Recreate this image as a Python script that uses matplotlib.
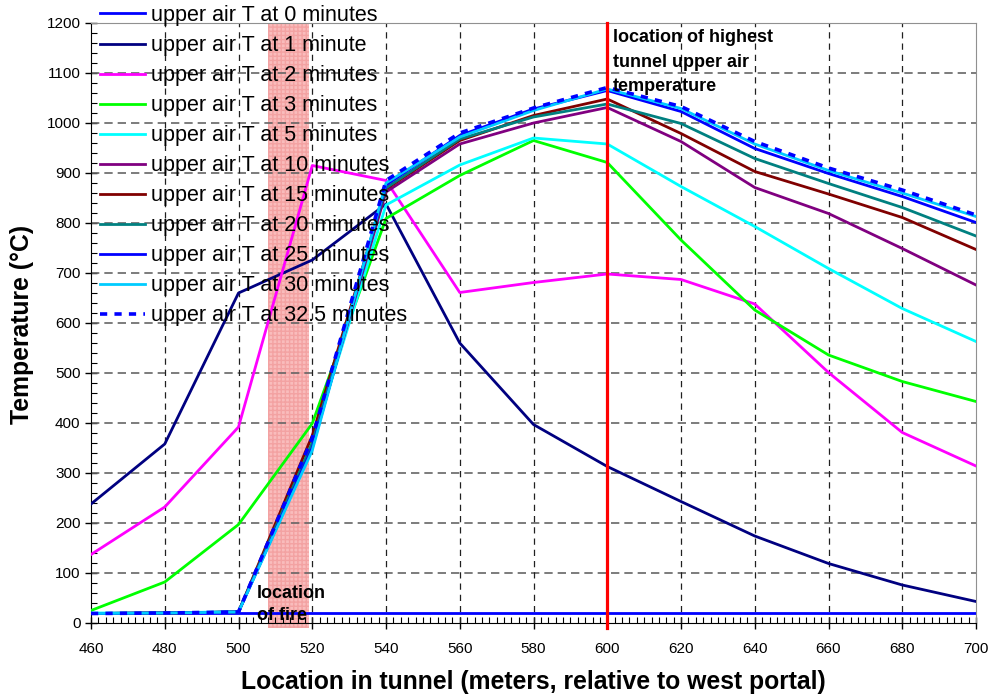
import matplotlib.pyplot as plt
from matplotlib.ticker import MultipleLocator

plt.rcParams['font.family'] = ['Liberation Sans', 'DejaVu Sans']

# plot parameters
tickFont = 11
axisLabelFont = 17.8
legendFont = 15.5
noteFont = 13

# tunnel positions (meters from west portal)
location = [460, 480, 500, 520, 540, 560, 580, 600, 620, 640, 660, 680, 700]

# upper air temperature (C) at each position, one list per time step
t0 = [20, 20, 20, 20, 20, 20, 20, 20, 20, 20, 20, 20, 20]
t1 = [238, 358, 660, 726, 838, 560, 397, 313, 243, 174, 119, 76, 43]
t2 = [137, 232, 392, 915, 885, 661, 681, 698, 687, 638, 501, 381, 314]
t3 = [25, 82, 197, 399, 809, 895, 965, 921, 766, 626, 536, 483, 443]
t5 = [20, 20, 23, 362, 836, 916, 970, 958, 873, 793, 709, 629, 563]
t10 = [19, 20, 22, 355, 862, 958, 1000, 1031, 963, 871, 819, 749, 676]
t15 = [19, 20, 22, 375, 868, 965, 1015, 1048, 979, 903, 858, 811, 747]
t20 = [19, 20, 22, 360, 870, 968, 1012, 1038, 999, 929, 879, 831, 774]
t25 = [19, 20, 22, 350, 876, 975, 1028, 1065, 1023, 949, 899, 853, 801]
t30 = [19, 20, 22, 345, 880, 972, 1025, 1068, 1029, 958, 905, 860, 813]
t325 = [19, 20, 22, 370, 885, 980, 1030, 1071, 1033, 963, 910, 866, 816]

labels = ["upper air T at 0 minutes", "upper air T at 1 minute",
          "upper air T at 2 minutes", "upper air T at 3 minutes",
          "upper air T at 5 minutes", "upper air T at 10 minutes",
          "upper air T at 15 minutes", "upper air T at 20 minutes",
          "upper air T at 25 minutes", "upper air T at 30 minutes",
          "upper air T at 32.5 minutes"]
series = [t0, t1, t2, t3, t5, t10, t15, t20, t25, t30, t325]
colors = ['#0000FF', '#000080', '#FF00FF', '#00FF00', '#00FFFF', '#800080',
          '#800000', '#008080', '#0000FF', '#00CCFF', '#0000FF']

# fire zone and hottest location
fireStart, fireEnd = 508, 519
hottest = 600

fig = plt.figure(figsize=(9.93, 6.98), dpi=100)
ax = fig.add_axes([91 / 993, 75 / 698, 885 / 993, 600 / 698])

ax.axvspan(fireStart, fireEnd, ymin=-0.008, ymax=1, facecolor='#f9bcbc',
           edgecolor='#f3a2a2', hatch='++++', lw=0, zorder=1, clip_on=False)

for i in range(len(series)):
    if i == len(series) - 1:
        ax.plot(location, series[i], color=colors[i], lw=2.6,
                linestyle=(0, (2.0, 2.0)), label=labels[i], zorder=3)
    else:
        ax.plot(location, series[i], color=colors[i], lw=2.0,
                label=labels[i], zorder=3)

ax.axvline(hottest, ymin=-0.008, ymax=1, color='#FF0000', lw=2.3, zorder=4,
           clip_on=False)

ax.text(hottest + 1.5, 1187, "location of highest\ntunnel upper air\ntemperature",
        fontsize=noteFont, fontweight='bold', va='top', ha='left',
        linespacing=1.55, zorder=5)
ax.text(505, 37, "location\nof fire", fontsize=noteFont, fontweight='bold',
        va='center', ha='left', linespacing=1.35, zorder=5)

ax.set_xlim(460, 700)
ax.set_ylim(0, 1200)
ax.xaxis.set_major_locator(MultipleLocator(20))
ax.xaxis.set_minor_locator(MultipleLocator(2))
ax.yaxis.set_major_locator(MultipleLocator(100))
ax.yaxis.set_minor_locator(MultipleLocator(20))

# dashed grid: gray horizontal, black vertical
for y in range(100, 1200, 100):
    ax.axhline(y, color='#666666', lw=1.2, linestyle=(0, (5, 3)), zorder=2)
for x in range(480, 700, 20):
    ax.axvline(x, color='#202020', lw=0.9, linestyle=(0, (5, 4)), zorder=2)

ax.tick_params(axis='both', which='major', direction='inout', length=9,
               width=1, labelsize=tickFont, color='black')
ax.tick_params(axis='both', which='minor', direction='in', length=4, width=0.8)
ax.tick_params(axis='x', which='major', pad=9)
ax.tick_params(axis='y', which='major', pad=3)

ax.spines['left'].set_color('black')
ax.spines['bottom'].set_color('black')
ax.spines['top'].set_color('#909090')
ax.spines['right'].set_color('#909090')

ax.set_xlabel("Location in tunnel (meters, relative to west portal)",
              fontsize=axisLabelFont, fontweight='bold')
ax.xaxis.set_label_coords(0.5, -0.078)
fig.text(22 / 993, 1 - 324 / 698, "Temperature (\u00b0C)", rotation=90,
         ha='center', va='center', fontsize=axisLabelFont, fontweight='bold')

leg = ax.legend(loc='upper left', bbox_to_anchor=(100 / 993, 1 - 5 / 698),
                bbox_transform=fig.transFigure, frameon=False,
                fontsize=legendFont, handlelength=2.1, handletextpad=0.25,
                labelspacing=0.42, borderpad=0, borderaxespad=0)
leg.set_zorder(6)

fig.savefig("out.png", dpi=100)
